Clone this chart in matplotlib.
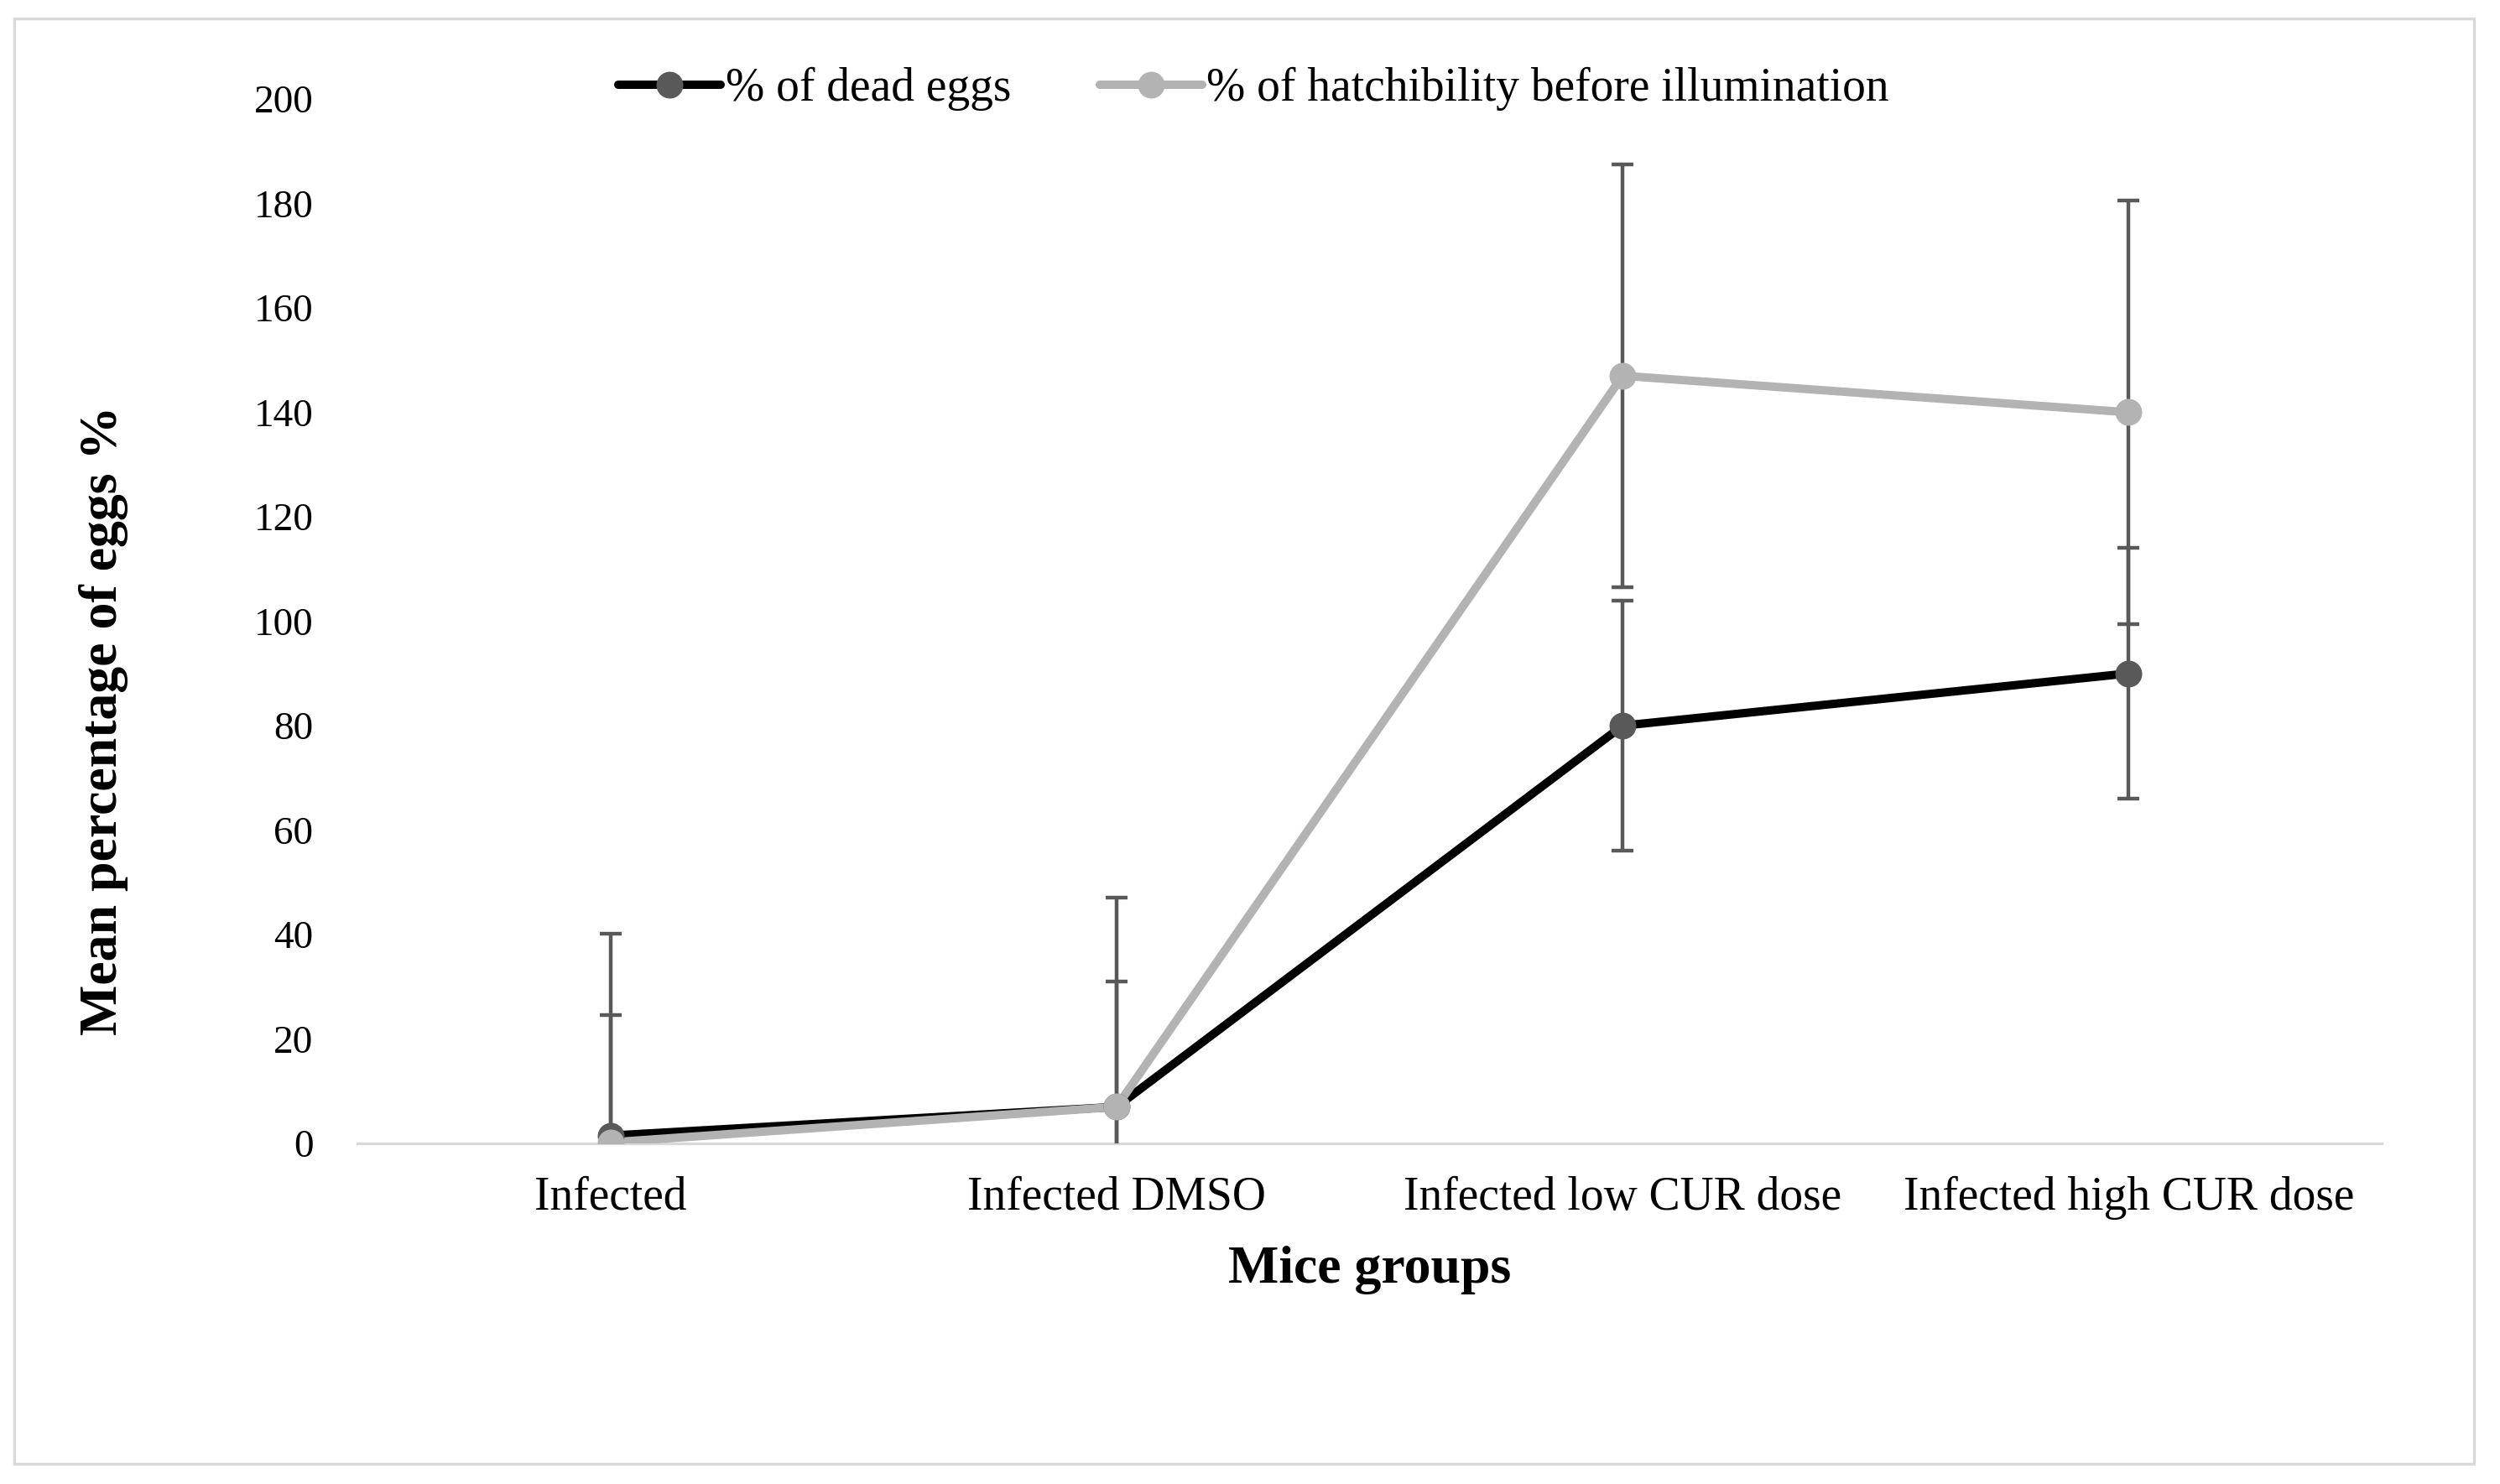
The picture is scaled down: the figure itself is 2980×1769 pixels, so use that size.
import matplotlib
matplotlib.use("Agg")
import matplotlib.pyplot as plt
from matplotlib.patches import Rectangle

# -------------------------
# DADOS
# -------------------------
grupos = ["Infected", "Infected DMSO", "Infected low CUR dose", "Infected high CUR dose"]
ovos_mortos = [1.5, 7, 80, 90]
ovos_mortos_erro = [23, 24, 24, 24]
eclosao = [0.2, 7, 147, 140]
eclosao_erro = [40, 40, 40.5, 40.5]
yticks = [0, 20, 40, 60, 80, 100, 120, 140, 160, 180, 200]

nome_mortos = "% of dead eggs"
nome_eclosao = "% of hatchibility before illumination"

plt.rcParams["font.family"] = ["Liberation Serif", "DejaVu Serif"]

fig = plt.figure(figsize=(14.9, 8.845), dpi=200)
ax = fig.add_axes([0.143, 0.2295, 0.8097, 0.7038])

x = list(range(len(grupos)))

# barras de erro
ax.errorbar(x, ovos_mortos, yerr=ovos_mortos_erro, fmt="none", ecolor="#595959",
            elinewidth=1.6, capsize=4.7, capthick=1.6, zorder=2)
ax.errorbar(x, eclosao, yerr=eclosao_erro, fmt="none", ecolor="#595959",
            elinewidth=1.6, capsize=4.7, capthick=1.6, zorder=2)

# linhas
ax.plot(x, ovos_mortos, color="black", lw=3.6, solid_capstyle="round", zorder=3)
ax.plot(x, eclosao, color="#b3b3b3", lw=3.6, solid_capstyle="round", zorder=4)
ax.plot(x, ovos_mortos, ls="none", marker="o", ms=10.5, color="#595959", zorder=5)
ax.plot(x, eclosao, ls="none", marker="o", ms=10.5, color="#b3b3b3", zorder=6)

# handles da legenda
h1, = ax.plot([], [], color="black", lw=3.6, marker="o", ms=10.5,
              mfc="#595959", mec="#595959", solid_capstyle="round")
h2, = ax.plot([], [], color="#b3b3b3", lw=3.6, marker="o", ms=10.5,
              mfc="#b3b3b3", mec="#b3b3b3", solid_capstyle="round")

ax.set_xlim(-0.5, 3.5)
ax.set_ylim(0, 200)
ax.set_yticks(yticks)
ax.set_xticks(x)
ax.set_xticklabels(grupos, fontsize=20)
ax.tick_params(axis="y", labelsize=17, length=0, pad=19)
ax.tick_params(axis="x", length=0, pad=14)

for lado in ["top", "right", "left"]:
    ax.spines[lado].set_visible(False)
ax.spines["bottom"].set_color("#d9d9d9")
ax.spines["bottom"].set_linewidth(1.2)
ax.spines["bottom"].set_zorder(1)

ax.set_xlabel("Mice groups", fontsize=23, fontweight="bold", labelpad=11)
ax.set_ylabel("Mean percentage of eggs %", fontsize=23, fontweight="bold")
ax.yaxis.set_label_coords(-0.113, 0.405)

fig.legend([h1, h2], [nome_mortos, nome_eclosao], loc="center",
           bbox_to_anchor=(0.5015, 0.940), ncol=2, frameon=False, fontsize=20,
           handlelength=2.2, handletextpad=0.1, columnspacing=1.9)

# moldura externa
fig.patches.append(Rectangle((0.0057, 0.0136), 0.984, 0.974, transform=fig.transFigure,
                             fill=False, edgecolor="#d9d9d9", lw=1.2))

fig.savefig("out.png", dpi=200)
